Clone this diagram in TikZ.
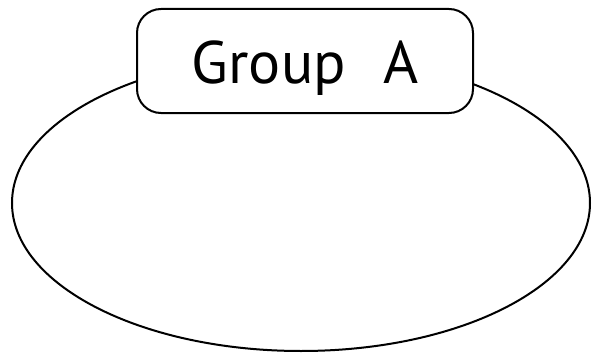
\documentclass[tikz,border=0pt]{standalone}
\usepackage{fontspec}
\setmainfont{PT Sans}
\usetikzlibrary{shapes.geometric}
\begin{document}
\begin{tikzpicture}[x=1pt,y=1pt,
  outline/.style={draw=black,line width=2pt},
  label box/.style={outline,fill=white,rounded corners=24pt,minimum width=336pt,minimum height=104pt,inner sep=0pt,font=\fontsize{60}{60}\selectfont}]
\useasboundingbox (0,0) rectangle (595,357);
\node[outline,ellipse,minimum width=578pt,minimum height=296pt,inner sep=0pt] (group) at (301,154) {};
\node[label box] (label) at (305,296) {\raisebox{-23pt}[0pt][0pt]{Group\hspace{0.62em}A}};
\end{tikzpicture}
\end{document}
